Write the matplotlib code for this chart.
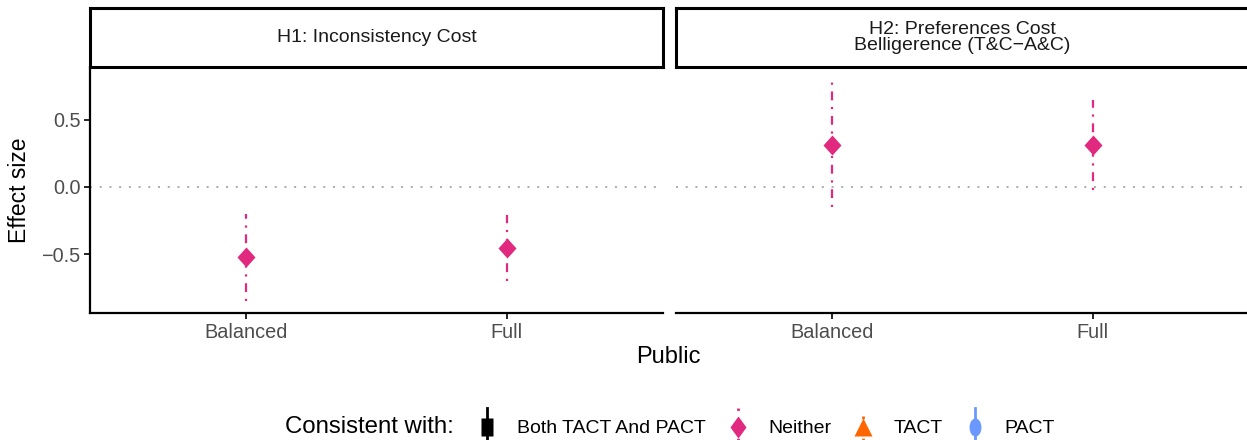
import matplotlib
matplotlib.use("Agg")
import matplotlib.pyplot as plt
from matplotlib.lines import Line2D
from matplotlib.legend_handler import HandlerBase
from matplotlib.markers import MarkerStyle
from matplotlib.transforms import Affine2D

plt.rcParams['font.family'] = ['Liberation Sans', 'DejaVu Sans']

# estimates per hypothesis and sample
panels = ["H1: Inconsistency Cost", "H2: Preferences Cost\nBelligerence (T&C\u2212A&C)"]
samples = ["Balanced", "Full"]
estimate = [[-0.52, -0.45], [0.31, 0.31]]
ci_low = [[-0.845, -0.70], [-0.15, -0.02]]
ci_high = [[-0.20, -0.21], [0.81, 0.645]]
consistency = [["Neither", "Neither"], ["Neither", "Neither"]]

categories = ["Both TACT And PACT", "Neither", "TACT", "PACT"]
cat_colors = {"Both TACT And PACT": "black", "Neither": "#E0297F",
              "TACT": "#FF6600", "PACT": "#6B98FF"}
cat_markers = {"Both TACT And PACT": "s", "Neither": "D", "TACT": "^", "PACT": "o"}
cat_lines = {"Both TACT And PACT": "-", "Neither": (0, (1, 3, 4, 3)),
             "TACT": (0, (1, 3)), "PACT": "-"}
# legend glyphs come out taller than wide
key_stretch = {"Both TACT And PACT": (0.66, 1.0), "Neither": (0.64, 0.9),
               "TACT": (1.0, 1.0), "PACT": (0.66, 1.0)}

W, H = 1247, 440
fig = plt.figure(figsize=(W / 100, H / 100), dpi=100)

panel_w = 573 / W
panel_b = 1 - 313 / H
panel_h = (313 - 67) / H
strip_h = (67 - 8) / H
lefts = [90 / W, 676 / W]

for i, name in enumerate(panels):
    ax = fig.add_axes([lefts[i], panel_b, panel_w, panel_h])
    ax.axhline(0, color="#AAAAAA", lw=1.4, ls=(0, (1, 4)), zorder=1)
    for j, s in enumerate(samples):
        c = consistency[i][j]
        mk = MarkerStyle(cat_markers[c], transform=Affine2D().scale(1.0, 1.12))
        ax.plot([j + 1, j + 1], [ci_low[i][j], ci_high[i][j]], color=cat_colors[c],
                lw=1.6, ls=cat_lines[c], zorder=2)
        ax.plot(j + 1, estimate[i][j], marker=mk, color=cat_colors[c],
                ms=9.5, mec="none", zorder=3)
    ax.set_xlim(0.4, 2.6)
    ax.set_ylim(-0.935, 0.89)
    ax.set_xticks([1, 2])
    ax.set_xticklabels(samples, fontsize=14.3, color="#4D4D4D")
    ax.set_yticks([-0.5, 0.0, 0.5])
    for side in ("top", "right"):
        ax.spines[side].set_visible(False)
    ax.spines["bottom"].set_linewidth(1.6)
    ax.spines["left"].set_linewidth(1.6)
    ax.tick_params(axis="both", length=4, width=1.2, color="black", pad=3)
    if i == 0:
        ax.set_yticklabels(["\u22120.5", "0.0", "0.5"], fontsize=14.3, color="#4D4D4D")
        ax.set_ylabel("Effect size", fontsize=16.5, labelpad=7)
    else:
        ax.spines["left"].set_visible(False)
        ax.tick_params(axis="y", left=False, labelleft=False)

    sax = fig.add_axes([lefts[i], panel_b + panel_h, panel_w, strip_h])
    sax.set_xticks([])
    sax.set_yticks([])
    for sp in sax.spines.values():
        sp.set_linewidth(2.2)
    sax.text(0.5, 0.5, name, ha="center", va="center", fontsize=14,
             color="#1A1A1A", transform=sax.transAxes, linespacing=0.95)

fig.text((90 + 1247) / 2 / W, 1 - 357 / H, "Public", ha="center", va="center", fontsize=17)


class PointRangeKey(HandlerBase):
    # vertical point-range glyph, like a ggplot pointrange key
    def create_artists(self, legend, orig_handle, xdescent, ydescent,
                       width, height, fontsize, trans):
        c = orig_handle.get_label()
        xc = width / 2 - xdescent
        yc = height / 2 - ydescent
        line = Line2D([xc, xc], [yc - height * 0.8, yc + height * 0.8],
                      color=cat_colors[c], lw=2.0, ls=cat_lines[c])
        mk = MarkerStyle(cat_markers[c], transform=Affine2D().scale(*key_stretch[c]))
        pt = Line2D([xc], [yc], marker=mk, ms=13, color=cat_colors[c],
                    mec="none", ls="none")
        for a in (line, pt):
            a.set_transform(trans)
        return [line, pt]


handles = [Line2D([], [], color=cat_colors[c], label=c) for c in categories]
fig.text(285 / W, 1 - 427 / H, "Consistent with:", ha="left", va="center", fontsize=17.3)
fig.legend(handles, categories, loc="center left", bbox_to_anchor=(474 / W, 1 - 427 / H),
           ncol=4, frameon=False, fontsize=14, handler_map={Line2D: PointRangeKey()},
           handlelength=1.3, handleheight=1.5, handletextpad=0.9, columnspacing=1.0,
           borderpad=0, borderaxespad=0)

fig.savefig("out.png", dpi=100)
